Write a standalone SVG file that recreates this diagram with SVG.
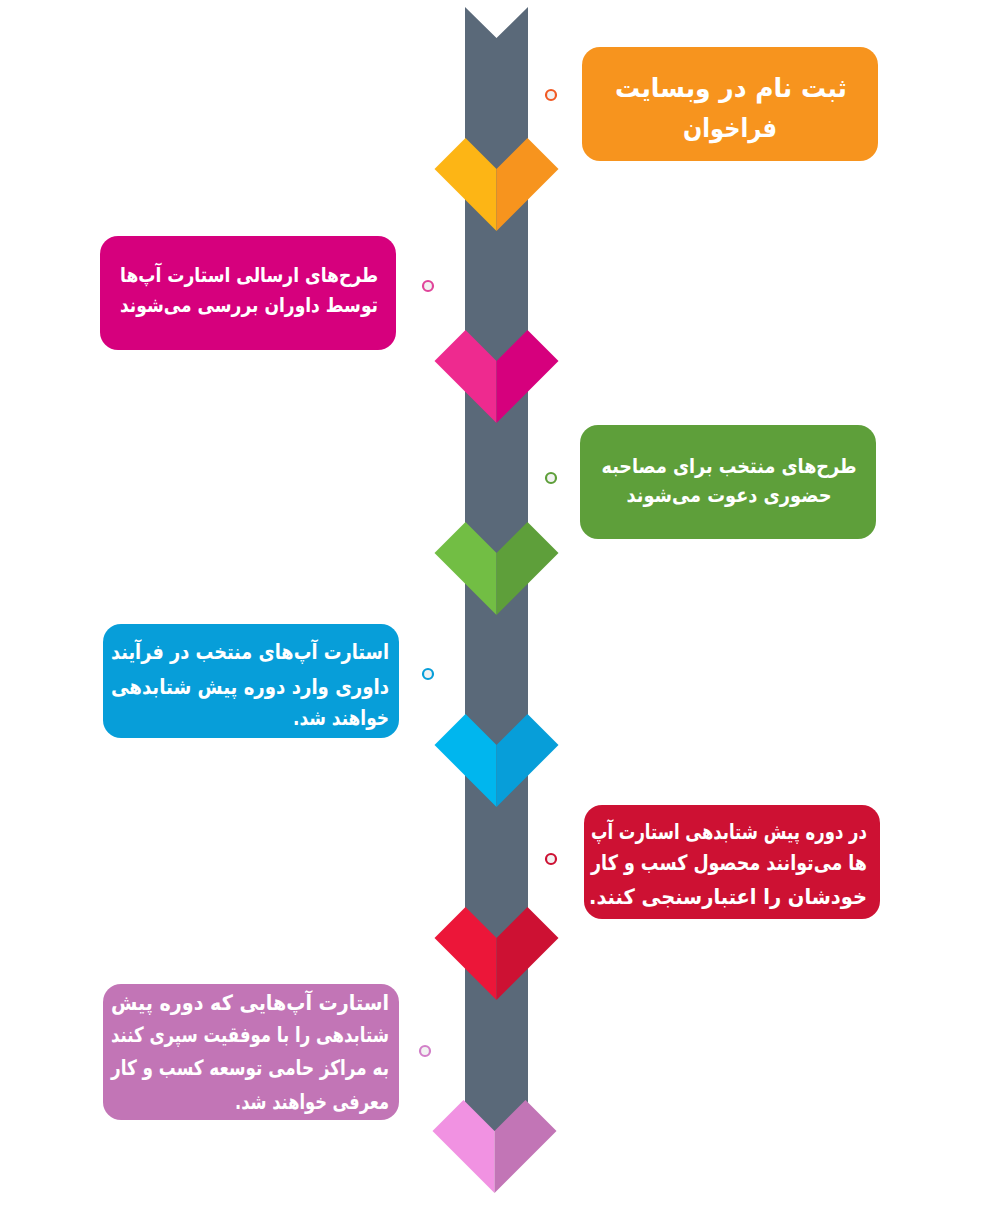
<svg xmlns="http://www.w3.org/2000/svg" width="1000" height="1232" viewBox="0 0 1000 1232">
<style>
.t{font-family:"DejaVu Sans",sans-serif;font-weight:bold;fill:#fff;direction:rtl}
.c{text-anchor:middle}
.r{text-anchor:start}
.dot{fill:#f2f2f2;stroke-width:2.2}
</style>
<defs>
<g id="chevL"><polygon points="-62,31 -31,0 0,31 0,93"/></g>
<g id="chevR"><polygon points="62,31 31,0 0,31 0,93"/></g>
</defs>
<rect width="1000" height="1232" fill="#fff"/>
<g id="connectors">
<polygon id="spine" points="465,7 496.5,38 528,7 528,1131 465,1131" fill="#5A6979"/>
</g>
<g id="chevron1" transform="translate(496.5,138)"><use href="#chevL" fill="#FDB515"/><use href="#chevR" fill="#F7941E"/></g>
<g id="chevron2" transform="translate(496.5,330)"><use href="#chevL" fill="#EE2A8F"/><use href="#chevR" fill="#D6007D"/></g>
<g id="chevron3" transform="translate(496.5,522)"><use href="#chevL" fill="#72BE44"/><use href="#chevR" fill="#5E9F3A"/></g>
<g id="chevron4" transform="translate(496.5,714)"><use href="#chevL" fill="#00B6EE"/><use href="#chevR" fill="#079ED9"/></g>
<g id="chevron5" transform="translate(496.5,907)"><use href="#chevL" fill="#EC1639"/><use href="#chevR" fill="#CD1133"/></g>
<g id="chevron6" transform="translate(494.5,1100)"><use href="#chevL" fill="#F192E2"/><use href="#chevR" fill="#C275B6"/></g>

<g id="dot1"><circle class="dot" cx="551" cy="95" r="5" stroke="#F15A24"/></g>
<g id="dot2"><circle class="dot" cx="428" cy="286" r="5" stroke="#E0459A"/></g>
<g id="dot3"><circle class="dot" cx="551" cy="478" r="5" stroke="#5E9F3A"/></g>
<g id="dot4"><circle class="dot" cx="428" cy="674" r="5" stroke="#079ED9"/></g>
<g id="dot5"><circle class="dot" cx="551" cy="859" r="5" stroke="#CD1133"/></g>
<g id="dot6"><circle class="dot" cx="425" cy="1051" r="5" stroke="#D27FC8"/></g>

<g id="step1">
<rect x="582" y="47" width="296" height="114" rx="18" fill="#F7941E"/>
<text class="t c" x="731" y="97" font-size="26" textLength="232" lengthAdjust="spacingAndGlyphs">ثبت نام در وبسایت</text>
<text class="t c" x="730" y="137" font-size="26" textLength="94" lengthAdjust="spacingAndGlyphs">فراخوان</text>
</g>
<g id="step2">
<rect x="100" y="236" width="296" height="114" rx="18" fill="#D6007D"/>
<text class="t c" x="249" y="282" font-size="20" textLength="258" lengthAdjust="spacingAndGlyphs">طرح‌های ارسالی استارت آپ‌ها</text>
<text class="t c" x="249" y="312" font-size="20" textLength="258" lengthAdjust="spacingAndGlyphs">توسط داوران بررسی می‌شوند</text>
</g>
<g id="step3">
<rect x="580" y="425" width="296" height="114" rx="18" fill="#5E9F3A"/>
<text class="t c" x="729" y="473" font-size="20" textLength="255" lengthAdjust="spacingAndGlyphs">طرح‌های منتخب برای مصاحبه</text>
<text class="t c" x="729" y="502" font-size="20" textLength="205" lengthAdjust="spacingAndGlyphs">حضوری دعوت می‌شوند</text>
</g>
<g id="step4">
<rect x="103" y="624" width="296" height="114" rx="18" fill="#079ED9"/>
<text class="t r" x="389" y="659" font-size="21" textLength="278" lengthAdjust="spacingAndGlyphs">استارت آپ‌های منتخب در فرآیند</text>
<text class="t r" x="389" y="694" font-size="21" textLength="278" lengthAdjust="spacingAndGlyphs">داوری وارد دوره پیش شتابدهی</text>
<text class="t r" x="389" y="725" font-size="21" textLength="96" lengthAdjust="spacingAndGlyphs">خواهند شد.</text>
</g>
<g id="step5">
<rect x="584" y="805" width="296" height="114" rx="18" fill="#CD1133"/>
<text class="t r" x="867" y="839" font-size="21" textLength="276" lengthAdjust="spacingAndGlyphs">در دوره پیش شتابدهی استارت آپ</text>
<text class="t r" x="867" y="870" font-size="21" textLength="276" lengthAdjust="spacingAndGlyphs">ها می‌توانند محصول کسب و کار</text>
<text class="t r" x="867" y="904" font-size="21" textLength="278" lengthAdjust="spacingAndGlyphs">خودشان را اعتبارسنجی کنند.</text>
</g>
<g id="step6">
<rect x="103" y="984" width="296" height="136" rx="18" fill="#C275B6"/>
<text class="t r" x="389" y="1010" font-size="21" textLength="278" lengthAdjust="spacingAndGlyphs">استارت آپ‌هایی که دوره پیش</text>
<text class="t r" x="389" y="1042" font-size="21" textLength="278" lengthAdjust="spacingAndGlyphs">شتابدهی را با موفقیت سپری کنند</text>
<text class="t r" x="389" y="1075" font-size="21" textLength="278" lengthAdjust="spacingAndGlyphs">به مراکز حامی توسعه کسب و کار</text>
<text class="t r" x="389" y="1109" font-size="21" textLength="154" lengthAdjust="spacingAndGlyphs">معرفی خواهند شد.</text>
</g>
</svg>
